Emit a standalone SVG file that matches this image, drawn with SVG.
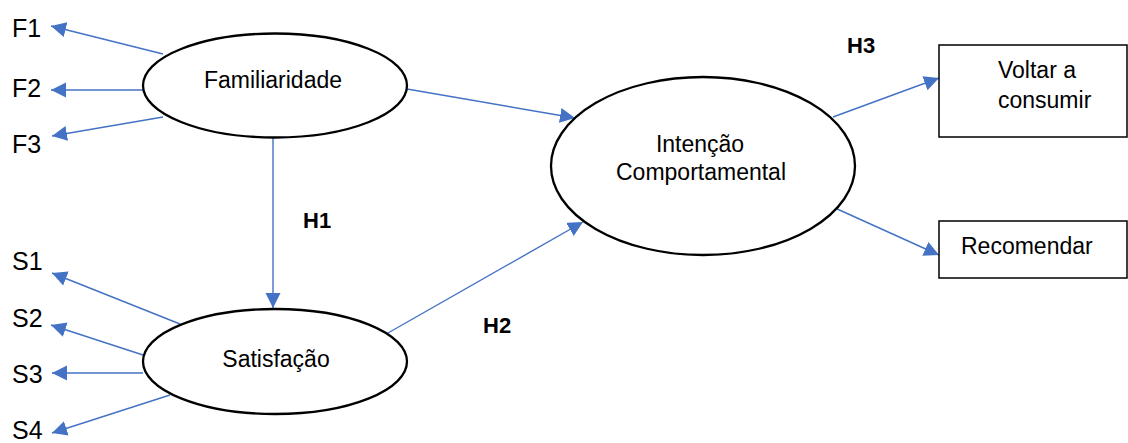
<svg xmlns="http://www.w3.org/2000/svg" width="1128" height="443" viewBox="0 0 1128 443">
<style>
text{font-family:"Liberation Sans",Arial,sans-serif;fill:#000}
.n{font-size:23px}
.l{font-size:25px}
.h{font-size:22px;font-weight:bold}
.e{fill:#fff;stroke:#000;stroke-width:2.3}
.b{fill:#fff;stroke:#000;stroke-width:1.5}
.c line{stroke:#4472C4;stroke-width:1.4;marker-end:url(#a)}
</style>
<defs>
<marker id="a" markerUnits="userSpaceOnUse" markerWidth="16" markerHeight="16" refX="15" refY="7.5" orient="auto">
<path d="M0,0 L15,7.5 L0,15 z" fill="#4472C4"/>
</marker>
</defs>
<g class="c" id="connectors">
<line x1="163" y1="54" x2="51" y2="26"/>
<line x1="143" y1="90" x2="51" y2="90"/>
<line x1="163" y1="117" x2="52" y2="136"/>
<line x1="273" y1="138" x2="273" y2="308"/>
<line x1="407" y1="89" x2="575" y2="118"/>
<line x1="388" y1="333" x2="583" y2="222"/>
<line x1="180" y1="324" x2="52" y2="273"/>
<line x1="143" y1="355" x2="51" y2="325"/>
<line x1="143" y1="373" x2="52" y2="373"/>
<line x1="170" y1="395" x2="52" y2="433"/>
<line x1="833" y1="117" x2="939" y2="78"/>
<line x1="835" y1="208" x2="939" y2="255"/>
</g>
<g id="familiaridade">
<ellipse class="e" cx="275" cy="85.5" rx="132" ry="52"/>
<text class="n" x="273" y="88" text-anchor="middle">Familiaridade</text>
</g>
<g id="satisfacao">
<ellipse class="e" cx="275" cy="361.5" rx="132" ry="52.5"/>
<text class="n" x="276" y="367" text-anchor="middle">Satisfação</text>
</g>
<g id="intencao">
<ellipse class="e" cx="703" cy="166" rx="152" ry="89"/>
<text class="n" x="700" y="152" text-anchor="middle">Intenção</text>
<text class="n" x="701" y="180" text-anchor="middle">Comportamental</text>
</g>
<g id="voltar">
<rect class="b" x="939" y="45" width="188" height="92"/>
<text class="n" x="998" y="78">Voltar a</text>
<text class="n" x="998" y="108">consumir</text>
</g>
<g id="recomendar">
<rect class="b" x="939" y="221" width="188" height="57"/>
<text class="n" x="961" y="254">Recomendar</text>
</g>
<g id="f1"><text class="l" x="12" y="37">F1</text></g>
<g id="f2"><text class="l" x="12" y="97">F2</text></g>
<g id="f3"><text class="l" x="12" y="153">F3</text></g>
<g id="s1"><text class="l" x="12" y="270">S1</text></g>
<g id="s2"><text class="l" x="12" y="327">S2</text></g>
<g id="s3"><text class="l" x="12" y="383">S3</text></g>
<g id="s4"><text class="l" x="12" y="439">S4</text></g>
<g id="labels">
<text class="h" x="303" y="228">H1</text>
<text class="h" x="483" y="333">H2</text>
<text class="h" x="847" y="53">H3</text>
</g>
</svg>
